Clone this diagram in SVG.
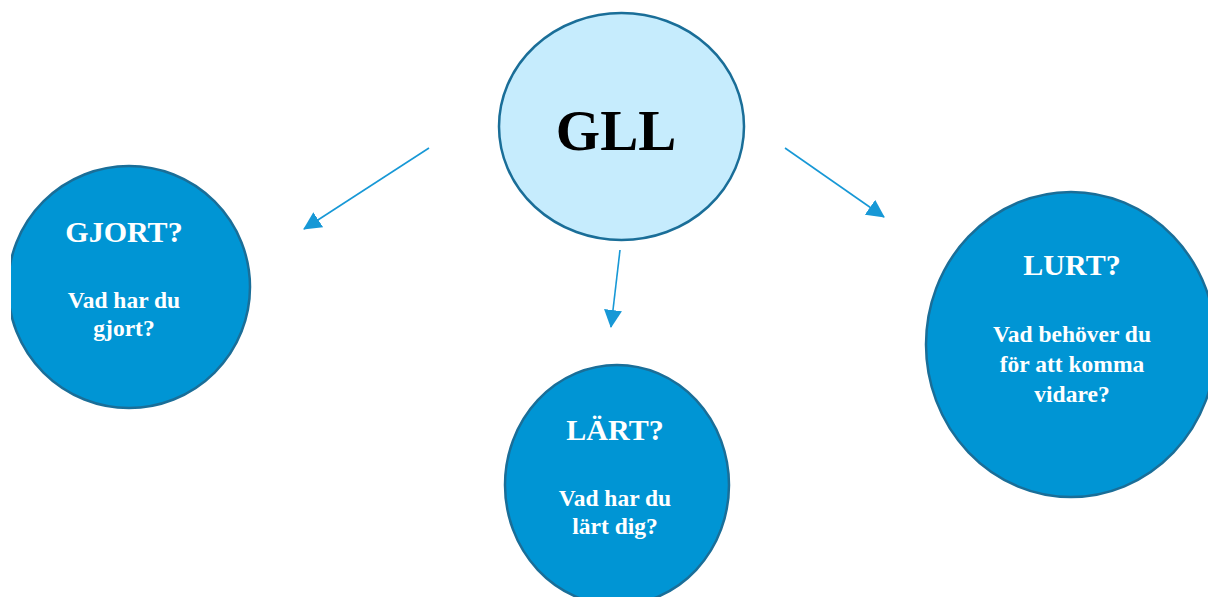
<svg xmlns="http://www.w3.org/2000/svg" width="1208" height="597" viewBox="0 0 1208 597">
<style>
.node{fill:#0095d4;stroke:#1a6e98;stroke-width:2.5}
.hub{fill:#c6ecfd;stroke:#1a6e98;stroke-width:2.5}
.t{font-family:"Liberation Serif","Times New Roman",serif;font-weight:bold;text-anchor:middle;fill:#ffffff}
.title{font-size:30px}
.sub{font-size:23.5px}
.conn{stroke:#1798d6;stroke-width:1.6;fill:none;marker-end:url(#ah)}
</style>
<defs>
<marker id="ah" markerUnits="userSpaceOnUse" markerWidth="18" markerHeight="18" viewBox="0 0 18 18" refX="17" refY="9" orient="auto">
<path d="M0,0 L18,9 L0,18 Z" fill="#1798d6"/>
</marker>
<clipPath id="page"><rect x="11" y="0" width="1197" height="597"/></clipPath>
</defs>
<rect width="1208" height="597" fill="#ffffff"/>
<g id="connectors">
<line class="conn" x1="429" y1="148" x2="304" y2="229"/>
<line class="conn" x1="785" y1="148" x2="884" y2="217"/>
<line class="conn" x1="620" y1="250" x2="611" y2="327"/>
</g>
<g id="gll">
<ellipse class="hub" cx="621.5" cy="126.5" rx="122.5" ry="113.5"/>
<text x="616" y="150" font-family="'Liberation Serif','Times New Roman',serif" font-weight="bold" font-size="57" text-anchor="middle" fill="#000000">GLL</text>
</g>
<g id="gjort" clip-path="url(#page)">
<ellipse class="node" cx="129" cy="287" rx="121" ry="121"/>
<text class="t title" x="124" y="242">GJORT?</text>
<text class="t sub" x="124" y="308">Vad har du</text>
<text class="t sub" x="124" y="335.5">gjort?</text>
</g>
<g id="lart">
<ellipse class="node" cx="617" cy="485" rx="112" ry="120"/>
<text class="t title" x="615" y="440">LÄRT?</text>
<text class="t sub" x="615" y="506">Vad har du</text>
<text class="t sub" x="615" y="534">lärt dig?</text>
</g>
<g id="lurt">
<ellipse class="node" cx="1071" cy="344.5" rx="145" ry="152.5"/>
<text class="t title" x="1072" y="275">LURT?</text>
<text class="t sub" x="1072" y="342">Vad behöver du</text>
<text class="t sub" x="1072" y="372">för att komma</text>
<text class="t sub" x="1072" y="402">vidare?</text>
</g>
</svg>
